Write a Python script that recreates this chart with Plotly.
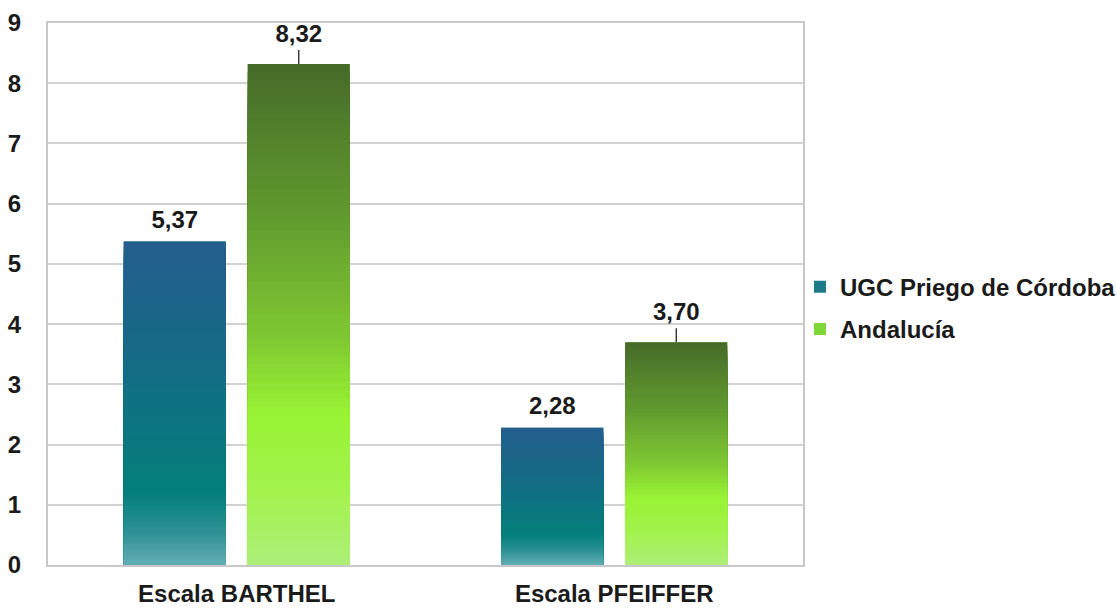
import plotly.graph_objects as go

# ---- data ----
categories = ["Escala BARTHEL", "Escala PFEIFFER"]
series_names = ["UGC Priego de Córdoba", "Andalucía"]
ugc_values = [5.37, 2.28]
andalucia_values = [8.32, 3.70]
andalucia_leader = [0.23, 0.23]   # length of the small leader line above the Andalucía bars
y_ticks = [0, 1, 2, 3, 4, 5, 6, 7, 8, 9]

FONT = "Liberation Sans, Arial, Helvetica, sans-serif"
N_STRIPS = 60
UGC_LABEL_PAD = 0.1   # extra room (axis units) between UGC bars and their labels

ugc_stops = [(0.0, "#62AEB5"), (0.1, "#2E9296"), (0.22, "#037F7C"), (0.42, "#0B7680"),
             (0.7, "#186887"), (1.0, "#245E8D")]
and_stops = [(0.0, "#AEEF78"), (0.15, "#A2F24C"), (0.3, "#98F434"), (0.45, "#80C932"),
             (0.7, "#609A2E"), (0.88, "#517F2C"), (1.0, "#456A29")]


def hex2rgb(h):
    h = h.lstrip("#")
    return tuple(int(h[i:i + 2], 16) for i in (0, 2, 4))


def interp(stops, t):
    for (t0, c0), (t1, c1) in zip(stops[:-1], stops[1:]):
        if t <= t1:
            f = 0 if t1 == t0 else (t - t0) / (t1 - t0)
            a, b = hex2rgb(c0), hex2rgb(c1)
            return "rgb(%d,%d,%d)" % tuple(round(a[k] + (b[k] - a[k]) * f) for k in range(3))
    return "rgb(%d,%d,%d)" % hex2rgb(stops[-1][1])


def fmt(v):
    return f"{v:.2f}".replace(".", ",")


label_font = dict(family=FONT, size=24, color="#1a1a1a", weight="bold")
clear = dict(color="rgba(0,0,0,0)", line=dict(width=0))

fig = go.Figure()

# main (legend) bars
fig.add_trace(go.Bar(
    x=categories, y=ugc_values, name=series_names[0], offsetgroup="ugc", legendgroup="ugc",
    marker=dict(color="#1C7A88", line=dict(width=0)), hoverinfo="skip"))
fig.add_trace(go.Bar(
    x=categories, y=andalucia_values, name=series_names[1], offsetgroup="and", legendgroup="and",
    marker=dict(color="#7FD637", line=dict(width=0)),
    error_y=dict(type="data", array=andalucia_leader, arrayminus=[0] * len(andalucia_values),
                 symmetric=False, width=0, thickness=1.3, color="#222222"),
    hoverinfo="skip"))
# transparent helper bars carrying the value labels
fig.add_trace(go.Bar(
    x=categories, y=[v + UGC_LABEL_PAD for v in ugc_values],
    offsetgroup="ugc", showlegend=False, hoverinfo="skip", marker=clear,
    text=[fmt(v) for v in ugc_values], textposition="outside", textfont=label_font,
    cliponaxis=False))
fig.add_trace(go.Bar(
    x=categories, y=[v + l for v, l in zip(andalucia_values, andalucia_leader)],
    offsetgroup="and", showlegend=False, hoverinfo="skip", marker=clear,
    text=[fmt(v) for v in andalucia_values], textposition="outside", textfont=label_font,
    cliponaxis=False))

# gradient strips (drawn tallest first, all from the baseline)
for vals, stops, grp in [(ugc_values, ugc_stops, "ugc"), (andalucia_values, and_stops, "and")]:
    for i in range(N_STRIPS):
        frac = (N_STRIPS - i) / N_STRIPS
        mid = (N_STRIPS - i - 0.5) / N_STRIPS
        fig.add_trace(go.Bar(
            x=categories, y=[v * frac for v in vals], offsetgroup=grp, showlegend=False,
            hoverinfo="skip", marker=dict(color=interp(stops, mid), line=dict(width=0))))

fig.update_layout(
    width=1117, height=608,
    margin=dict(l=48, r=314, t=23, b=43, pad=0, autoexpand=False),
    paper_bgcolor="white", plot_bgcolor="white",
    barmode="group", bargap=0.343, bargroupgap=0.177,
    font=dict(family=FONT, color="#1a1a1a"),
    showlegend=True,
    legend=dict(x=0.996, xanchor="left", y=0.474, yanchor="middle", bgcolor="rgba(0,0,0,0)",
                font=dict(family=FONT, size=24, color="#1a1a1a", weight="bold"),
                tracegroupgap=8, itemclick=False, itemdoubleclick=False),
    xaxis=dict(type="category", showline=True, mirror=True, linecolor="#C8C8C8", linewidth=2,
               showgrid=False, ticks="", ticklabelstandoff=6, automargin=False,
               tickfont=dict(family=FONT, size=24, color="#1a1a1a", weight="bold")),
    yaxis=dict(range=[0, 9], tickvals=y_ticks, showline=True, mirror=True, linecolor="#C8C8C8",
               linewidth=2, showgrid=True, gridcolor="#D2D2D2", gridwidth=2, zeroline=False,
               ticks="", ticklabelstandoff=20, automargin=False,
               tickfont=dict(family=FONT, size=24, color="#1a1a1a", weight="bold")),
)

fig.write_html("out.html", config={"displayModeBar": False},
               post_script="document.body.style.margin='0';document.body.style.overflow='hidden';")
